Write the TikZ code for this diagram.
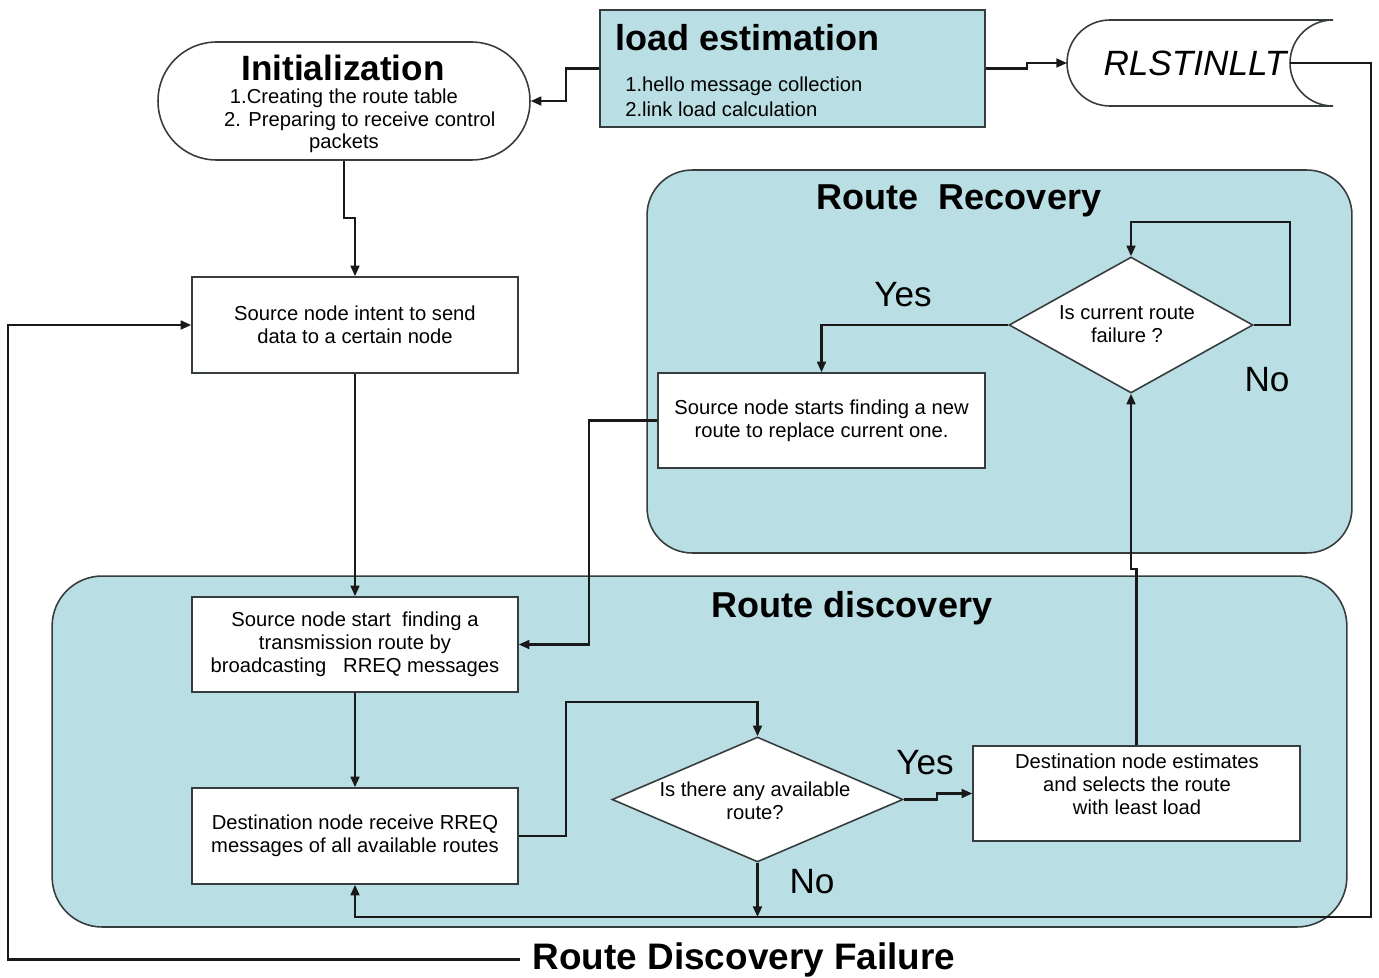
\documentclass[tikz,border=0pt]{standalone}
\usepackage{fontspec}
\setmainfont{Liberation Sans}
\usetikzlibrary{arrows.meta,shapes.geometric}
\definecolor{panelfill}{RGB}{185,222,227}
\definecolor{edge}{RGB}{55,60,62}
\newcommand{\headfont}{\fontsize{20.5}{24}\selectfont\bfseries}
\newcommand{\bodyfont}{\fontsize{11.5}{13}\selectfont}
\newcommand{\tagfont}{\fontsize{20}{24}\selectfont}
\tikzset{
  panel/.style={draw=edge, line width=0.9pt, fill=panelfill, rounded corners=1cm, inner sep=0pt},
  box/.style={draw=edge, line width=0.9pt, fill=white, minimum width=6.52cm,
    minimum height=1.92cm, inner sep=0pt, align=center, font=\bodyfont},
  decision/.style={diamond, draw=edge, line width=0.9pt, fill=white, inner sep=0pt},
  conn/.style={line width=1.25pt, draw=black!90},
  arrow/.style={conn, -{Triangle[length=6pt,width=5pt]}},
  heading/.style={font=\headfont, inner sep=0pt},
  tag/.style={font=\tagfont, inner sep=0pt},
  body/.style={font=\bodyfont, align=center, inner sep=0pt}
}
\begin{document}
\begin{tikzpicture}[x=0.02cm,y=-0.02cm]
\useasboundingbox (0,0) rectangle (1379,977);

% shaded group panels
\node[panel, minimum width=25.9cm, minimum height=7.02cm] (rdbox) at (699.5,751.5) {};
\node[panel, rounded corners=0.9cm, minimum width=14.1cm, minimum height=7.66cm] (rrbox) at (999.5,361.5) {};
\node[heading, anchor=base] (rrT) at (959,209) {Route\ \ Recovery};
\node[heading, anchor=base] (rdT) at (852,617) {Route discovery};

% initialization terminal
\node[draw=edge, line width=0.9pt, fill=white, rounded corners=1.17cm,
      minimum width=7.44cm, minimum height=2.36cm] (init) at (344,101) {};
\node[font=\fontsize{20}{24}\selectfont\bfseries, inner sep=0pt] (initT) at (343,68) {Initialization};
\node[body, font=\fontsize{11.5}{12.8}\selectfont] (initL) at (344,121)
  {1.Creating the route table\\\hspace*{18pt}2. Preparing to receive control\\packets};

% load estimation block
\node[draw=edge, line width=0.9pt, fill=panelfill, minimum width=7.7cm,
      minimum height=2.34cm, inner sep=0pt] (le) at (792.5,68.5) {};
\node[heading, anchor=west] (leT) at (615,38) {load estimation};
\node[font=\fontsize{11.5}{14}\selectfont, align=left, anchor=west, inner sep=0pt] (leL) at (625,96.5)
  {1.hello message collection\\2.link load calculation};

% stored data RLSTINLLT
\draw[draw=edge, line width=0.9pt, fill=white]
  (1110,20) .. controls (1086,20) and (1067,39.3) .. (1067,63)
  .. controls (1067,86.7) and (1086,106) .. (1110,106) -- (1333,106)
  .. controls (1309,106) and (1290,86.7) .. (1290,63)
  .. controls (1290,39.3) and (1309,20) .. (1333,20) -- cycle;
\coordinate (rlw) at (1067,63);
\coordinate (rle) at (1290,63);
\node[font=\fontsize{20}{24}\selectfont\itshape, inner sep=0pt] (rl) at (1195,63) {RLSTINLLT};

% process boxes
\node[box] (intent) at (355,325) {Source node intent to send\\data to a certain node};
\node[box, minimum height=1.9cm] (start) at (355,644.5)
  {Source node start\ \ finding a\\transmission route by\\broadcasting\ \ \ RREQ messages};
\node[box] (recv) at (355,836) {Destination node receive RREQ\\messages of all available routes};
\node[box, minimum width=6.54cm, minimum height=1.9cm] (est) at (1136.5,793.5) {};
\node[body] (estT) at (1137,784) {Destination node estimates\\and selects the route\\with least load};
\node[box, minimum width=6.54cm, minimum height=1.9cm] (nr) at (821.5,420.5)
  {Source node starts finding a new\\route to replace current one.};

% decisions
\node[decision, minimum width=5.82cm, minimum height=2.5cm] (d1) at (757.5,799.5) {};
\node[body] (d1T) at (755,801) {Is there any available\\route?};
\node[decision, minimum width=4.88cm, minimum height=2.72cm] (d2) at (1131,325) {};
\node[body] (d2T) at (1127,324.5) {Is current route\\failure ?};

% connectors
\draw[arrow] (le.west) -- (566,68.5) |- (init.east);
\draw[arrow] (le.east) -- (1027,68.5) |- (rlw);
\draw[arrow] (init.south) -- (344,218) -- (355,218) -- (intent.north);
\draw[arrow] (intent.south) -- (start.north);
\draw[arrow] (start.south) -- (recv.north);
\draw[arrow] (recv.east) -| (566,702) -| (d1.north);
\draw[arrow] (d1.east) -- (937,799.5) |- (est.west);
\draw[arrow] (d1.south) -- (757.5,917);
\draw[arrow] (est.north) -- (1136.5,569) -- (1131,569) -- (d2.south);
\draw[arrow] (d2.east) -- (1290,325) -- (1290,222) -| (d2.north);
\draw[arrow] (d2.west) -| (nr.north);
\draw[arrow] (nr.west) -- (589,420.5) |- (start.east);
\draw[arrow] (rle) -- (1371,63) -- (1371,917) -| (recv.south);

% failure loop back to the source node
\node[font=\fontsize{21}{24}\selectfont\bfseries, anchor=base] (rdf) at (744,969) {Route Discovery Failure};
\draw[arrow] ([xshift=-4pt]rdf.west) -- (rdf.west -| 8,0) |- (intent.west);

% branch labels
\node[tag] (yes1) at (903,295) {Yes};
\node[tag] (no1) at (1267,380) {No};
\node[tag] (yes2) at (925,763) {Yes};
\node[tag] (no2) at (812,882) {No};
\end{tikzpicture}
\end{document}
